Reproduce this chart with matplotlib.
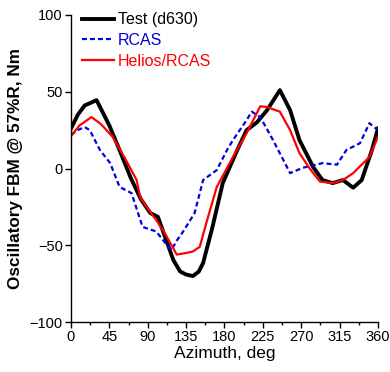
import matplotlib.pyplot as plt
import numpy as np

plt.rcParams['font.family'] = ['Liberation Sans', 'DejaVu Sans']

# Test (d630)
test_az = [0, 8, 16, 30, 45, 57, 70, 82, 93, 102, 110, 120, 128, 135, 143, 150, 155, 166, 178, 195,
           206, 218, 230, 245, 257, 268, 284, 295, 307, 319, 331, 341, 353, 360]
test_val = [26, 35, 41, 44.5, 28, 12, -6, -20, -29, -31.5, -44, -59.5, -67, -69, -70, -67, -61.5, -38, -9.5, 12,
            25, 30, 38, 51, 38, 18.5, 1, -7.5, -9.5, -7.5, -12.5, -7.5, 12, 26]

# RCAS
rcas_az = [0, 8, 16, 22, 34, 46, 57, 71, 84, 100, 110, 118, 124, 131, 145, 155, 171, 183,
           190, 206, 212, 222, 237, 257, 272, 295, 312, 323, 339, 350, 360]
rcas_val = [22, 25, 27, 25, 12, 3.5, -12, -16, -38, -41, -48, -53, -47, -41.5, -29, -7.5, -1, 12,
            18.5, 31.5, 37, 33.5, 18.5, -3, 0.5, 3.5, 2.5, 12, 16.5, 29.5, 25]

# Helios/RCAS
hel_az = [0, 10, 24, 35, 49, 63, 77, 81, 90, 100, 112, 124, 135, 143, 151, 160, 171, 190,
          206, 222, 230, 245, 257, 268, 280, 292, 307, 319, 331, 350, 360]
hel_val = [21, 28, 33.5, 29, 20.5, 7, -7.5, -18.5, -26, -33.5, -44, -56, -55, -54, -51, -33, -12, 7.5,
           23, 40.5, 40, 37, 25, 10, 0, -8.5, -9.5, -7.5, -3, 7.5, 20.5]

fig = plt.figure(figsize=(3.9, 3.72), dpi=100)
ax = fig.add_axes([0.182, 0.134, 0.787, 0.826])

ax.plot(test_az, test_val, color='black', linewidth=2.8, label='Test (d630)', solid_joinstyle='round')
ax.plot(rcas_az, rcas_val, color='#0000dd', linewidth=1.6, linestyle=(0, (2.2, 1.4)), label='RCAS')
ax.plot(hel_az, hel_val, color='red', linewidth=1.6, label='Helios/RCAS', solid_joinstyle='round')

ax.set_xlim(0, 360)
ax.set_ylim(-100, 100)
ax.set_xticks(np.arange(0, 361, 45))
ax.set_xticks(np.arange(0, 361, 22.5), minor=True)
ax.set_yticks([-100, -50, 0, 50, 100])
ax.spines['top'].set_visible(False)
ax.spines['right'].set_visible(False)
ax.tick_params(axis='both', which='major', direction='out', length=4, labelsize=10.5, width=1, pad=2)
ax.tick_params(axis='x', which='minor', direction='out', length=2.5, width=1)
for s in ['left', 'bottom']:
    ax.spines[s].set_linewidth(1)

ax.set_xlabel('Azimuth, deg', fontsize=12.5, labelpad=1)
ax.set_ylabel('Oscillatory FBM @ 57%R, Nm', fontsize=12.3, fontweight='bold', labelpad=5)

ax.legend(loc='upper left', bbox_to_anchor=(-0.01, 1.055), frameon=False, fontsize=11.5,
          labelcolor='linecolor', handlelength=2.0, handletextpad=0.25, borderaxespad=0.5,
          labelspacing=0.35)

fig.savefig('out.png', dpi=100)
